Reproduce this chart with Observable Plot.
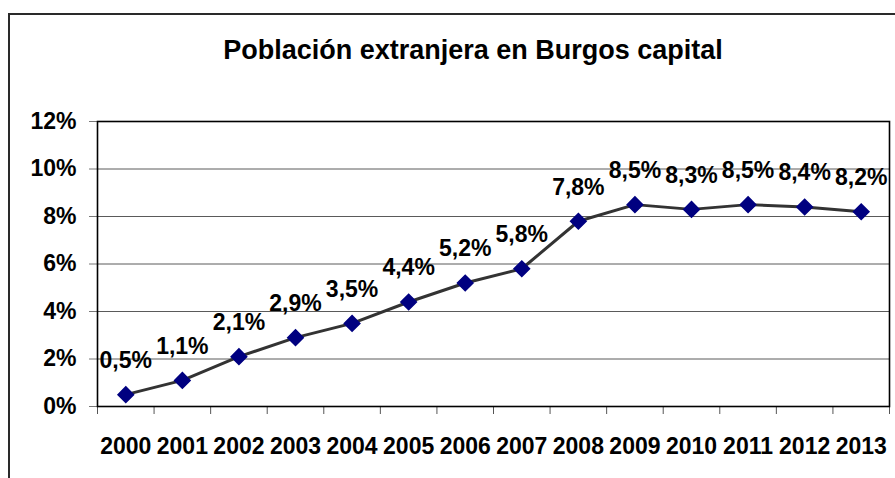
<!DOCTYPE html>
<html>
<head>
<meta charset="utf-8">
<script src="https://cdn.jsdelivr.net/npm/d3@7"></script>
<script src="https://cdn.jsdelivr.net/npm/@observablehq/plot@0.6"></script>
<style>
  html, body { margin: 0; padding: 0; background: #fff; overflow: hidden; }
  #wrap { position: relative; width: 895px; height: 478px; overflow: hidden; font-family: "Liberation Sans", Arial, sans-serif; }
  #outer { position: absolute; left: 8px; top: 13px; width: 900px; height: 500px; border: 2px solid #2a2a2a; box-sizing: border-box; }
  #title { position: absolute; left: 0; width: 946px; top: 37px; text-align: center; font-size: 27px; line-height: 26px; font-weight: bold; color: #000; }
  #chart { position: absolute; left: 0; top: 0; }
</style>
</head>
<body>
<div id="wrap">
  <div id="outer"></div>
  <div id="chart"></div>
  <div id="title">Población extranjera en Burgos capital</div>
</div>
<script>
const title = "Población extranjera en Burgos capital";
const years = [2000, 2001, 2002, 2003, 2004, 2005, 2006, 2007, 2008, 2009, 2010, 2011, 2012, 2013];
const values = [0.5, 1.1, 2.1, 2.9, 3.5, 4.4, 5.2, 5.8, 7.8, 8.5, 8.3, 8.5, 8.4, 8.2];
const yTicks = [0, 2, 4, 6, 8, 10, 12];

const data = years.map((y, i) => ({year: y, value: values[i]}));
const boundaries = years.map(y => y - 0.5).concat([years[years.length - 1] + 0.5]);
const fmt = v => v.toFixed(1).replace(".", ",") + "%";

const chart = Plot.plot({
  width: 895,
  height: 478,
  marginLeft: 97,
  marginRight: 6,
  marginTop: 121,
  marginBottom: 72,
  style: {fontFamily: '"Liberation Sans", Arial, sans-serif', fontSize: "23px", fontWeight: "bold", color: "#000", background: "transparent", overflow: "visible"},
  x: {type: "linear", domain: [years[0] - 0.5, years[years.length - 1] + 0.5], label: null},
  y: {domain: [0, 12], label: null},
  marks: [
    Plot.gridY(yTicks.slice(1, -1), {stroke: "#5a5a5a", strokeOpacity: 1, strokeWidth: 1}),
    Plot.axisY(yTicks, {tickSize: 8, tickPadding: 13, tickFormat: d => d + "%", stroke: "#777", fill: "#000", label: null}),
    Plot.axisX(boundaries, {tickSize: 8, tickFormat: () => "", stroke: "#555", label: null}),
    Plot.axisX(years, {tickSize: 0, tickPadding: 31, tickFormat: d => String(d), fill: "#000", label: null}),
    Plot.frame({stroke: "#000", strokeWidth: 1.6}),
    Plot.line(data, {x: "year", y: "value", stroke: "#333", strokeWidth: 3}),
    Plot.dot(data, {x: "year", y: "value", symbol: "diamond2", r: 7, fill: "#000080", stroke: "#000080"}),
    Plot.text(data, {x: "year", y: "value", text: d => fmt(d.value), dy: -34, fill: "#000", fontSize: 23, fontWeight: "bold"})
  ]
});
document.getElementById("chart").appendChild(chart);
</script>
</body>
</html>
